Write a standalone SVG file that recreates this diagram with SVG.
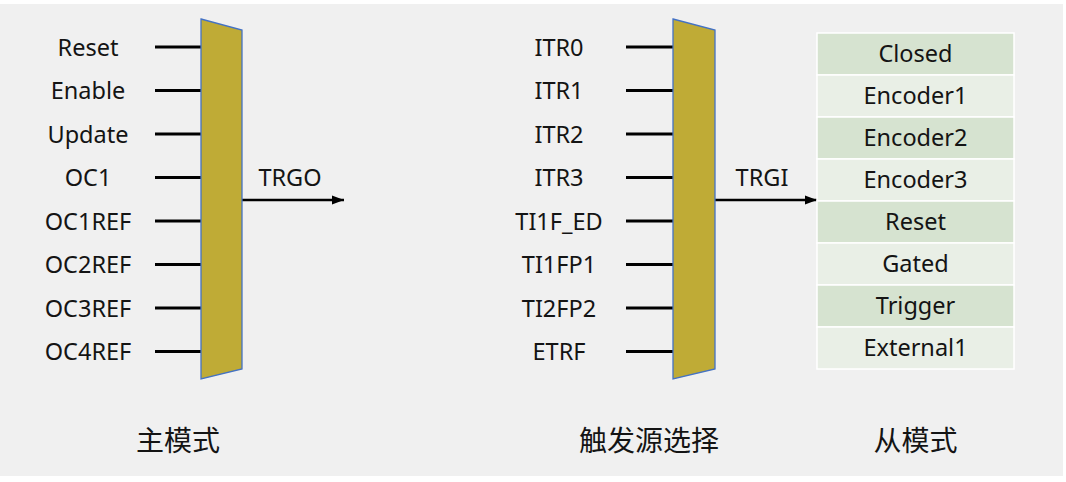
<svg xmlns="http://www.w3.org/2000/svg" width="1066" height="482" viewBox="0 0 1066 482">
<style>
.t{font-family:"Noto Sans","Noto Sans CJK SC",sans-serif;font-size:23.5px;fill:#141414;text-anchor:middle}
.c{font-family:"Noto Sans CJK SC","Noto Sans",sans-serif;font-size:28px;fill:#141414;text-anchor:middle}
.in{stroke:#000;stroke-width:3;fill:none}
.out{stroke:#000;stroke-width:2.5;fill:none}
.mux{fill:#bfab36;stroke:#4472c4;stroke-width:1.3}
.dk{fill:#d6e3d0;stroke:#fff;stroke-width:1.5}
.lt{fill:#e9efe6;stroke:#fff;stroke-width:1.5}
</style>
<defs>
<marker id="ah" markerUnits="userSpaceOnUse" markerWidth="14" markerHeight="12" refX="12" refY="6" orient="auto">
<path d="M0,1.5 L12,6 L0,10.5 z" fill="#000"/>
</marker>
</defs>
<rect x="0" y="0" width="1066" height="482" fill="#fff"/>
<rect x="0" y="4" width="1063" height="472" fill="#f0f0f0"/>

<g id="connectors">
<path class="in" d="M155,47H201M155,90.5H201M155,134H201M155,177.5H201M155,221H201M155,264.5H201M155,308H201M155,351.5H201"/>
<path class="in" d="M626,47H673M626,90.5H673M626,134H673M626,177.5H673M626,221H673M626,264.5H673M626,308H673M626,351.5H673"/>
<line class="out" x1="242" y1="200" x2="344" y2="200" marker-end="url(#ah)"/>
<line class="out" x1="715" y1="200" x2="817" y2="200" marker-end="url(#ah)"/>
</g>

<g id="master-inputs">
<text class="t" x="88" y="55.5">Reset</text>
<text class="t" x="88" y="99">Enable</text>
<text class="t" x="88" y="142.5">Update</text>
<text class="t" x="88" y="186">OC1</text>
<text class="t" x="88" y="229.5">OC1REF</text>
<text class="t" x="88" y="273">OC2REF</text>
<text class="t" x="88" y="316.5">OC3REF</text>
<text class="t" x="88" y="360">OC4REF</text>
</g>

<g id="master-mux">
<polygon class="mux" points="201,19 242,30 242,369 201,379"/>
</g>
<g id="trgo-label"><text class="t" x="290" y="186">TRGO</text></g>

<g id="trigger-inputs">
<text class="t" x="559" y="55.5">ITR0</text>
<text class="t" x="559" y="99">ITR1</text>
<text class="t" x="559" y="142.5">ITR2</text>
<text class="t" x="559" y="186">ITR3</text>
<text class="t" x="559" y="229.5">TI1F_ED</text>
<text class="t" x="559" y="273">TI1FP1</text>
<text class="t" x="559" y="316.5">TI2FP2</text>
<text class="t" x="559" y="360">ETRF</text>
</g>

<g id="trigger-mux">
<polygon class="mux" points="673,19 715,30 715,369 673,379"/>
</g>
<g id="trgi-label"><text class="t" x="762" y="186">TRGI</text></g>

<g id="slave-modes">
<rect class="dk" x="817" y="33" width="197" height="42"/>
<rect class="lt" x="817" y="75" width="197" height="42"/>
<rect class="dk" x="817" y="117" width="197" height="42"/>
<rect class="lt" x="817" y="159" width="197" height="42"/>
<rect class="dk" x="817" y="201" width="197" height="42"/>
<rect class="lt" x="817" y="243" width="197" height="42"/>
<rect class="dk" x="817" y="285" width="197" height="42"/>
<rect class="lt" x="817" y="327" width="197" height="42"/>
<text class="t" x="915.5" y="62">Closed</text>
<text class="t" x="915.5" y="104">Encoder1</text>
<text class="t" x="915.5" y="146">Encoder2</text>
<text class="t" x="915.5" y="188">Encoder3</text>
<text class="t" x="915.5" y="230">Reset</text>
<text class="t" x="915.5" y="272">Gated</text>
<text class="t" x="915.5" y="314">Trigger</text>
<text class="t" x="915.5" y="356">External1</text>
</g>

<g id="captions">
<text class="c" x="178" y="451">主模式</text>
<text class="c" x="649" y="451">触发源选择</text>
<text class="c" x="915.5" y="451">从模式</text>
</g>
</svg>
